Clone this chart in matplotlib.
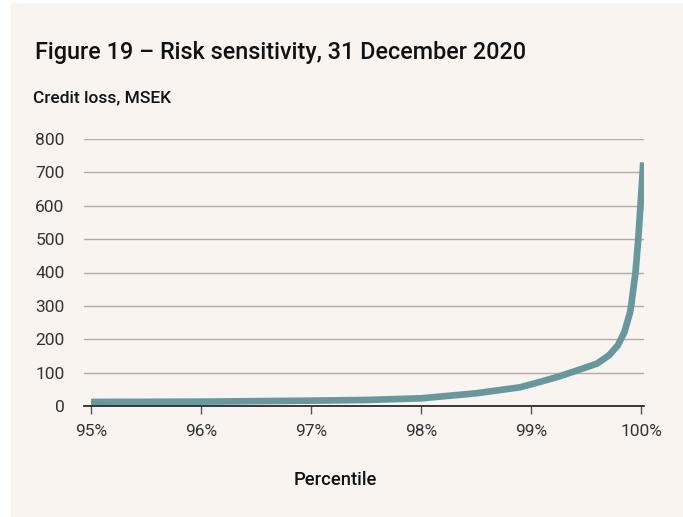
import matplotlib
matplotlib.use("Agg")
import matplotlib.pyplot as plt
from matplotlib.patches import Rectangle

percentile = [95.0, 96.0, 97.0, 97.5, 98.0, 98.5, 98.9, 99.08, 99.26, 99.45, 99.6, 99.71,
              99.79, 99.85, 99.88, 99.9, 99.91, 99.95, 99.975, 99.995, 100.015, 100.02]
credit_loss = [12, 13, 16, 18, 23, 38, 56, 72, 89, 110, 127, 152, 182, 222, 257, 280, 300,
               400, 500, 600, 700, 730]
xticks = [95, 96, 97, 98, 99, 100]
xtick_labels = ["95%", "96%", "97%", "98%", "99%", "100%"]
yticks = [0, 100, 200, 300, 400, 500, 600, 700, 800]

W, H = 683, 517
bg = "#f9f4f0"
fig = plt.figure(figsize=(W / 100, H / 100), dpi=100)
fig.patch.set_facecolor("white")
fig.patches.append(Rectangle((11 / W, 0), 1 - 11 / W, 1 - 3 / H, transform=fig.transFigure,
                             facecolor=bg, edgecolor="none", zorder=-10))

ax = fig.add_axes([84 / W, 1 - 406 / H, (644 - 84) / W, (406 - 139) / H])
ax.set_facecolor(bg)
ax.patch.set_alpha(0)

ax.plot(percentile, credit_loss, color="#66999e", lw=4.8, solid_capstyle="butt",
        solid_joinstyle="round", zorder=3)

ax.set_xlim(95 - 7 / 110, 100 + 3 / 110)
ax.set_ylim(0, 800)
ax.set_yticks(yticks)
ax.set_xticks(xticks)
ax.set_xticklabels(xtick_labels)
ax.grid(axis="y", color="#b0aca8", lw=1.0)
ax.set_axisbelow(True)
for s in ["top", "right", "left"]:
    ax.spines[s].set_visible(False)
ax.spines["bottom"].set_color("#1a1a1a")
ax.spines["bottom"].set_linewidth(1.2)
ax.spines["bottom"].set_zorder(4)
ax.tick_params(axis="y", length=0, pad=14, labelsize=12.5, labelcolor="#333333")
ax.tick_params(axis="x", length=6, width=1.0, color="#555555", pad=7, labelsize=12.5,
               labelcolor="#333333")
for lbl in ax.get_xticklabels() + ax.get_yticklabels():
    lbl.set_family("Roboto")

fig.text(35 / W, 1 - 52 / H, "Figure 19 – Risk sensitivity, 31 December 2020",
         fontsize=16.8, family="Roboto", weight="medium", color="#111111", va="center")
fig.text(33 / W, 1 - 98 / H, "Credit loss, MSEK", fontsize=12.5, family="Roboto",
         weight="medium", color="#111111", va="center")
fig.text(335 / W, 1 - 480 / H, "Percentile", fontsize=13.2, family="Roboto",
         weight="medium", color="#111111", va="center", ha="center")

fig.savefig("out.png", dpi=100, facecolor=fig.get_facecolor())
